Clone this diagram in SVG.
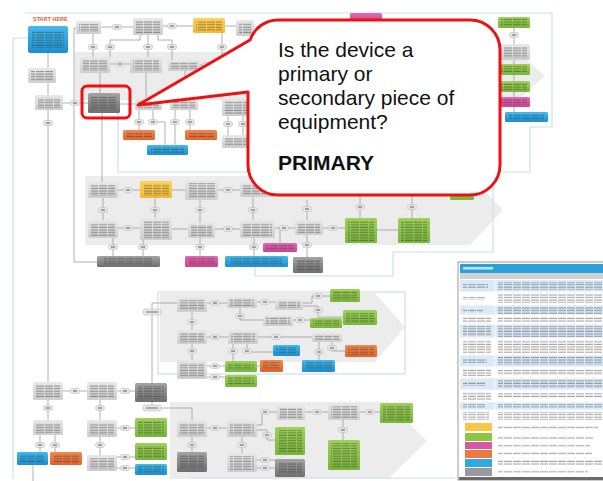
<svg xmlns="http://www.w3.org/2000/svg" xmlns:xlink="http://www.w3.org/1999/xlink" width="603" height="481" viewBox="0 0 603 481">
<defs>
<linearGradient id="gGray" x1="0" y1="0" x2="0" y2="1"><stop offset="0" stop-color="#e8e8e8"/><stop offset="1" stop-color="#cdcdcd"/></linearGradient>
<linearGradient id="gDark" x1="0" y1="0" x2="0" y2="1"><stop offset="0" stop-color="#a4a4a4"/><stop offset="1" stop-color="#6f6f6f"/></linearGradient>
<linearGradient id="gBlue" x1="0" y1="0" x2="0" y2="1"><stop offset="0" stop-color="#46b9ea"/><stop offset="1" stop-color="#1b8ed0"/></linearGradient>
<linearGradient id="gGreen" x1="0" y1="0" x2="0" y2="1"><stop offset="0" stop-color="#9ed15a"/><stop offset="1" stop-color="#79b53a"/></linearGradient>
<linearGradient id="gOrange" x1="0" y1="0" x2="0" y2="1"><stop offset="0" stop-color="#f08a4e"/><stop offset="1" stop-color="#e0642c"/></linearGradient>
<linearGradient id="gPink" x1="0" y1="0" x2="0" y2="1"><stop offset="0" stop-color="#e06bb3"/><stop offset="1" stop-color="#c9448f"/></linearGradient>
<linearGradient id="gYellow" x1="0" y1="0" x2="0" y2="1"><stop offset="0" stop-color="#fbd35c"/><stop offset="1" stop-color="#f2b935"/></linearGradient>
<pattern id="tx" width="9" height="2.6" patternUnits="userSpaceOnUse"><rect x="0" y="0.6" width="8" height="1.2" fill="#2a2a2a" opacity="0.4"/></pattern>
<filter id="soft" x="-10%" y="-20%" width="120%" height="140%"><feGaussianBlur stdDeviation="0.35"/></filter>
<g id="pill"><rect x="-4.5" y="-2.5" width="9" height="5" rx="2" fill="#e6e6e6" stroke="#b5b5b5" stroke-width="0.5"/><rect x="-2" y="-0.6" width="4" height="1.2" fill="#444" opacity="0.7"/></g>
</defs>
<style>
.gr{fill:url(#gGray)} .dk{fill:url(#gDark)} .bl{fill:url(#gBlue)} .gn{fill:url(#gGreen)}
.or{fill:url(#gOrange)} .pk{fill:url(#gPink)} .ye{fill:url(#gYellow)}
.t{fill:url(#tx);filter:url(#soft)}
.cn{fill:none;stroke:#9c9c9c;stroke-width:0.8}
.fr{fill:none;stroke:#c9dff0;stroke-width:1.2}
.chev{fill:#ececec}
.lbl{font-family:"Liberation Sans",Arial,sans-serif}
</style>
<rect width="603" height="481" fill="#ffffff"/>

<!-- background chevrons -->
<g id="chevrons">
<path class="chev" d="M75,52 H518 L545,76 L518,100 H75 Z"/>
<path class="chev" d="M85,176 H470 L503,210 L470,245 H85 Z"/>
<path class="chev" d="M160,293 H375 L405,327 L375,362 H160 Z"/>
<path class="chev" d="M170,402 H388 L427,441 L388,479 H170 Z"/>
</g>

<!-- frames -->
<g id="frames">
<path class="fr" d="M25,13 H552 V127 H530 V172 H118 V113"/>
<path class="fr" d="M13,479 V38 H28"/>
<path class="fr" d="M493,172 V252 H393 V276 H255 V267"/>
<rect class="fr" x="158" y="292" width="247" height="82"/>
<path class="fr" d="M190,478 H455"/>
</g>

<!-- connectors -->
<g id="connectors">
<path class="cn" d="M101,27 H133 M163,26 H193 M225,26 H236"/>
<path class="cn" d="M93,34 V57 M140,35 V40 H110 V57 M148,35 V57 M158,35 V40 H172 V60 M222,33 V98"/>
<path class="cn" d="M110,64 H130 M200,65 H236 M146,73 V98 M185,71 V100 M100,73 V93"/>
<path class="cn" d="M48,53 V68 M48,83 V95 M63,103 H88 M120,104 H135"/>
<path class="cn" d="M139,110 V130 M153,110 V122 H165 V145 M175,110 V145 M190,110 V130 M228,116 V135 M243,116 V135"/>
<path class="cn" d="M48,110 V382 M76,28 H74 V262 H97 M102,113 V182"/>
<path class="cn" d="M514,28 V44 M514,60 V64 M514,75 V81 M514,92 V97 M514,107 V112"/>
<path class="cn" d="M118,190 H140 M172,190 H185 M218,190 H240"/>
<path class="cn" d="M103,198 V220 M155,198 V218 M200,200 V222 M253,195 V220"/>
<path class="cn" d="M118,228 H140 M172,229 H188 M215,229 H240 M275,228 H295 M280,228 V243"/>
<path class="cn" d="M113,238 V256 M143,240 V256 M200,238 V256 M254,238 V256"/>
<path class="cn" d="M323,228 H345 M307,200 V220 M360,195 V218 M412,195 V218 M307,235 V257 M377,230 H398"/>
<path class="cn" d="M152,383 V303 H177 M207,303 H227 M257,302 H275 M303,303 H312 V296 H330 M303,306 H318 V317 H343"/>
<path class="cn" d="M240,308 V320 H263 M293,320 H310 M192,312 V330 M207,337 H228 M258,337 H312"/>
<path class="cn" d="M233,344 V361 M247,344 V352 H273 M319,342 V360 M332,342 V351 H345 M192,344 V360 M207,366 H225 M207,377 H225 M257,366 H260"/>
<path class="cn" d="M63,391 H87 M117,391 H135 M48,400 V420 M100,400 V420 M117,428 H135"/>
<path class="cn" d="M40,435 V452 M55,435 V452 M100,437 V455 M117,457 H135 M117,468 H135 M33,465 V481"/>
<path class="cn" d="M152,402 V408 H192 V420 M207,428 H227 M192,437 V452 M242,437 V453"/>
<path class="cn" d="M257,425 H262 V412 H277 M257,430 H267 V440 H275 M257,460 H275 M257,468 H275"/>
<path class="cn" d="M305,412 H328 M360,412 H380 M343,420 V440"/>
</g>

<!-- pills -->
<g id="pills">
<use href="#pill" x="117" y="27"/><use href="#pill" x="172" y="26"/>
<use href="#pill" x="93" y="47"/><use href="#pill" x="110" y="47"/><use href="#pill" x="148" y="47"/><use href="#pill" x="172" y="47"/><use href="#pill" x="222" y="47"/>
<use href="#pill" x="120" y="64"/><use href="#pill" x="207" y="65"/>
<use href="#pill" x="75" y="103"/><use href="#pill" x="48" y="123"/>
<use href="#pill" x="139" y="122"/><use href="#pill" x="153" y="122"/><use href="#pill" x="175" y="122"/><use href="#pill" x="190" y="122"/><use href="#pill" x="228" y="124"/><use href="#pill" x="243" y="124"/>
<use href="#pill" x="514" y="35"/>
<use href="#pill" x="128" y="190"/><use href="#pill" x="228" y="190"/>
<use href="#pill" x="103" y="210"/><use href="#pill" x="155" y="210"/><use href="#pill" x="200" y="210"/><use href="#pill" x="253" y="210"/>
<use href="#pill" x="307" y="209"/><use href="#pill" x="360" y="207"/><use href="#pill" x="412" y="207"/>
<use href="#pill" x="128" y="228"/><use href="#pill" x="228" y="229"/><use href="#pill" x="284" y="228"/><use href="#pill" x="333" y="228"/>
<use href="#pill" x="113" y="247"/><use href="#pill" x="143" y="247"/><use href="#pill" x="200" y="247"/><use href="#pill" x="254" y="247"/><use href="#pill" x="307" y="245"/>
<use href="#pill" x="215" y="303"/><use href="#pill" x="265" y="302"/><use href="#pill" x="318" y="296"/><use href="#pill" x="318" y="310"/>
<use href="#pill" x="240" y="316"/><use href="#pill" x="300" y="320"/><use href="#pill" x="192" y="322"/>
<use href="#pill" x="215" y="337"/><use href="#pill" x="276" y="337"/>
<use href="#pill" x="233" y="351"/><use href="#pill" x="247" y="351"/><use href="#pill" x="319" y="352"/><use href="#pill" x="332" y="348"/><use href="#pill" x="192" y="351"/>
<use href="#pill" x="215" y="366"/><use href="#pill" x="215" y="377"/>
<use href="#pill" x="75" y="391"/><use href="#pill" x="125" y="391"/><use href="#pill" x="48" y="408"/><use href="#pill" x="100" y="408"/>
<use href="#pill" x="125" y="428"/><use href="#pill" x="40" y="445"/><use href="#pill" x="55" y="445"/><use href="#pill" x="100" y="445"/>
<use href="#pill" x="125" y="457"/><use href="#pill" x="125" y="468"/>
<use href="#pill" x="215" y="428"/><use href="#pill" x="192" y="445"/><use href="#pill" x="242" y="445"/>
<use href="#pill" x="265" y="412"/><use href="#pill" x="267" y="435"/><use href="#pill" x="265" y="460"/><use href="#pill" x="265" y="468"/>
<use href="#pill" x="317" y="412"/><use href="#pill" x="370" y="412"/><use href="#pill" x="343" y="430"/>
</g>

<!-- branch labels -->
<g id="branch-primary"><rect x="143" y="309" width="18" height="6" rx="2" fill="#e6e6e6" stroke="#b5b5b5" stroke-width="0.5"/><rect x="146" y="311.4" width="12" height="1.2" fill="#444" opacity="0.6"/></g>
<g id="branch-secondary"><rect x="143" y="405" width="18" height="6" rx="2" fill="#e6e6e6" stroke="#b5b5b5" stroke-width="0.5"/><rect x="146" y="407.4" width="12" height="1.2" fill="#444" opacity="0.6"/></g>

<!-- START HERE -->
<text id="start-label" class="lbl" x="33" y="21" font-size="5.5" font-weight="bold" fill="#e8572a">START HERE</text>

<!-- nodes: top section -->
<g id="n1"><rect class="bl" x="28" y="26" width="40" height="27" rx="2"/><rect class="t" x="32" y="31" width="32" height="17"/></g>
<g id="n2"><rect class="gr" x="76" y="21" width="25" height="13" rx="1.5"/><rect class="t" x="79" y="24" width="19" height="8"/></g>
<g id="n3"><rect class="gr" x="133" y="18" width="30" height="17" rx="1.5"/><rect class="t" x="136" y="21" width="24" height="12"/></g>
<g id="n4"><rect class="ye" x="193" y="18" width="32" height="15" rx="1.5"/><rect class="t" x="196" y="21" width="26" height="10"/></g>
<g id="n5"><rect class="gr" x="236" y="20" width="18" height="16" rx="1.5"/><rect class="t" x="239" y="23" width="12" height="11"/></g>
<g id="n6"><rect class="pk" x="350" y="13" width="32" height="10" rx="1.5"/></g>
<g id="n7"><rect class="gn" x="498" y="17" width="32" height="11" rx="1.5"/><rect class="t" x="501" y="19" width="26" height="7"/></g>
<g id="n8"><rect class="gr" x="500" y="44" width="30" height="16" rx="1.5"/><rect class="t" x="503" y="47" width="24" height="11"/></g>
<g id="n9"><rect class="gn" x="498" y="64" width="32" height="11" rx="1.5"/><rect class="t" x="501" y="66" width="26" height="7"/></g>
<g id="n10"><rect class="gn" x="498" y="81" width="32" height="11" rx="1.5"/><rect class="t" x="501" y="83" width="26" height="7"/></g>
<g id="n11"><rect class="pk" x="498" y="97" width="32" height="10" rx="1.5"/><rect class="t" x="501" y="99" width="26" height="6"/></g>
<g id="n12"><rect class="bl" x="505" y="112" width="43" height="10" rx="1.5"/><rect class="t" x="509" y="114" width="35" height="6"/></g>
<g id="n13"><rect class="gr" x="28" y="68" width="28" height="15" rx="1.5"/><rect class="t" x="31" y="71" width="22" height="10"/></g>
<g id="n14"><rect class="gr" x="80" y="57" width="30" height="16" rx="1.5"/><rect class="t" x="83" y="60" width="24" height="11"/></g>
<g id="n15"><rect class="gr" x="130" y="57" width="32" height="16" rx="1.5"/><rect class="t" x="133" y="60" width="26" height="11"/></g>
<g id="n16"><rect class="gr" x="168" y="60" width="32" height="11" rx="1.5"/><rect class="t" x="171" y="62" width="26" height="7"/></g>
<g id="n17"><rect class="gr" x="35" y="95" width="28" height="15" rx="1.5"/><rect class="t" x="38" y="98" width="22" height="10"/></g>
<g id="n18"><rect class="dk" x="88" y="93" width="32" height="20" rx="1.5"/><rect class="t" x="91" y="97" width="26" height="13"/><rect x="82" y="86" width="48" height="32" rx="5" fill="none" stroke="#ee1111" stroke-width="3"/></g>
<g id="n19"><rect class="gr" x="135" y="99" width="27" height="11" rx="1.5"/><rect class="t" x="138" y="101" width="21" height="7"/></g>
<g id="n20"><rect class="gr" x="170" y="99" width="28" height="11" rx="1.5"/><rect class="t" x="173" y="101" width="22" height="7"/></g>
<g id="n21"><rect class="or" x="123" y="130" width="32" height="10" rx="1.5"/><rect class="t" x="126" y="132" width="26" height="6"/></g>
<g id="n22"><rect class="or" x="185" y="130" width="32" height="10" rx="1.5"/><rect class="t" x="188" y="132" width="26" height="6"/></g>
<g id="n23"><rect class="bl" x="147" y="145" width="41" height="10" rx="1.5"/><rect class="t" x="151" y="147" width="33" height="6"/></g>
<g id="n24"><rect class="gr" x="222" y="98" width="28" height="18" rx="1.5"/><rect class="t" x="225" y="101" width="22" height="13"/></g>
<g id="n25"><rect class="gr" x="222" y="135" width="28" height="13" rx="1.5"/><rect class="t" x="225" y="138" width="22" height="8"/></g>

<!-- middle section -->
<g id="n26"><rect class="gr" x="88" y="182" width="30" height="16" rx="1.5"/><rect class="t" x="91" y="185" width="24" height="11"/></g>
<g id="n27"><rect class="ye" x="140" y="181" width="32" height="17" rx="1.5"/><rect class="t" x="143" y="184" width="26" height="12"/></g>
<g id="n28"><rect class="gr" x="185" y="180" width="33" height="20" rx="1.5"/><rect class="t" x="188" y="183" width="27" height="15"/></g>
<g id="n29"><rect class="gr" x="240" y="182" width="35" height="15" rx="1.5"/><rect class="t" x="243" y="185" width="29" height="10"/></g>
<g id="n30"><rect class="gr" x="88" y="220" width="30" height="18" rx="1.5"/><rect class="t" x="91" y="223" width="24" height="13"/></g>
<g id="n31"><rect class="gr" x="140" y="218" width="32" height="22" rx="1.5"/><rect class="t" x="143" y="221" width="26" height="17"/></g>
<g id="n32"><rect class="gr" x="188" y="222" width="27" height="16" rx="1.5"/><rect class="t" x="191" y="225" width="21" height="11"/></g>
<g id="n33"><rect class="gr" x="240" y="220" width="35" height="18" rx="1.5"/><rect class="t" x="243" y="223" width="29" height="13"/></g>
<g id="n34"><rect class="pk" x="263" y="243" width="34" height="9" rx="1.5"/><rect class="t" x="266" y="245" width="28" height="5"/></g>
<g id="n35"><rect class="gr" x="295" y="220" width="28" height="15" rx="1.5"/><rect class="t" x="298" y="223" width="22" height="10"/></g>
<g id="n36"><rect class="gn" x="345" y="218" width="32" height="25" rx="1.5"/><rect class="t" x="348" y="221" width="26" height="20"/></g>
<g id="n37"><rect class="gn" x="398" y="218" width="32" height="25" rx="1.5"/><rect class="t" x="401" y="221" width="26" height="20"/></g>
<g id="n38"><rect class="gn" x="450" y="188" width="24" height="12" rx="1.5"/></g>
<g id="n39"><rect class="dk" x="97" y="256" width="63" height="11" rx="1.5"/><rect class="t" x="104" y="258" width="49" height="7"/></g>
<g id="n40"><rect class="pk" x="185" y="256" width="33" height="11" rx="1.5"/><rect class="t" x="188" y="258" width="27" height="7"/></g>
<g id="n41"><rect class="bl" x="225" y="256" width="63" height="11" rx="1.5"/><rect class="t" x="231" y="258" width="51" height="7"/></g>
<g id="n42"><rect class="dk" x="293" y="257" width="30" height="16" rx="1.5"/><rect class="t" x="296" y="260" width="24" height="11"/></g>

<!-- lower section -->
<g id="n43"><rect class="gr" x="177" y="297" width="30" height="15" rx="1.5"/><rect class="t" x="180" y="300" width="24" height="10"/></g>
<g id="n44"><rect class="gr" x="227" y="297" width="30" height="11" rx="1.5"/><rect class="t" x="230" y="299" width="24" height="7"/></g>
<g id="n45"><rect class="gr" x="275" y="299" width="28" height="11" rx="1.5"/><rect class="t" x="278" y="301" width="22" height="7"/></g>
<g id="n46"><rect class="gn" x="330" y="289" width="30" height="13" rx="1.5"/><rect class="t" x="333" y="291" width="24" height="9"/></g>
<g id="n47"><rect class="gn" x="343" y="310" width="34" height="15" rx="1.5"/><rect class="t" x="346" y="313" width="28" height="10"/></g>
<g id="n48"><rect class="gr" x="263" y="315" width="30" height="11" rx="1.5"/><rect class="t" x="266" y="317" width="24" height="7"/></g>
<g id="n49"><rect class="gn" x="310" y="318" width="32" height="10" rx="1.5"/><rect class="t" x="313" y="320" width="26" height="6"/></g>
<g id="n50"><rect class="gr" x="177" y="330" width="30" height="14" rx="1.5"/><rect class="t" x="180" y="333" width="24" height="9"/></g>
<g id="n51"><rect class="gr" x="228" y="330" width="30" height="14" rx="1.5"/><rect class="t" x="231" y="333" width="24" height="9"/></g>
<g id="n52"><rect class="gr" x="312" y="333" width="30" height="9" rx="1.5"/><rect class="t" x="315" y="335" width="24" height="5"/></g>
<g id="n53"><rect class="or" x="345" y="345" width="32" height="12" rx="1.5"/><rect class="t" x="348" y="347" width="26" height="8"/></g>
<g id="n54"><rect class="bl" x="273" y="345" width="27" height="11" rx="1.5"/><rect class="t" x="276" y="347" width="21" height="7"/></g>
<g id="n55"><rect class="bl" x="302" y="360" width="33" height="12" rx="1.5"/><rect class="t" x="305" y="362" width="27" height="8"/></g>
<g id="n56"><rect class="gr" x="177" y="360" width="30" height="19" rx="1.5"/><rect class="t" x="180" y="363" width="24" height="14"/></g>
<g id="n57"><rect class="gn" x="225" y="361" width="32" height="11" rx="1.5"/><rect class="t" x="228" y="363" width="26" height="7"/></g>
<g id="n58"><rect class="or" x="260" y="360" width="23" height="12" rx="1.5"/><rect class="t" x="263" y="362" width="17" height="8"/></g>
<g id="n59"><rect class="gn" x="225" y="375" width="32" height="12" rx="1.5"/><rect class="t" x="228" y="377" width="26" height="8"/></g>

<!-- bottom section -->
<g id="n60"><rect class="gr" x="33" y="382" width="30" height="18" rx="1.5"/><rect class="t" x="36" y="385" width="24" height="13"/></g>
<g id="n61"><rect class="gr" x="87" y="382" width="30" height="18" rx="1.5"/><rect class="t" x="90" y="385" width="24" height="13"/></g>
<g id="n62"><rect class="dk" x="135" y="383" width="32" height="19" rx="1.5"/><rect class="t" x="138" y="386" width="26" height="13"/></g>
<g id="n63"><rect class="gr" x="33" y="420" width="30" height="15" rx="1.5"/><rect class="t" x="36" y="423" width="24" height="10"/></g>
<g id="n64"><rect class="gr" x="87" y="420" width="30" height="17" rx="1.5"/><rect class="t" x="90" y="423" width="24" height="12"/></g>
<g id="n65"><rect class="gn" x="135" y="418" width="32" height="19" rx="1.5"/><rect class="t" x="138" y="421" width="26" height="14"/></g>
<g id="n66"><rect class="bl" x="17" y="452" width="31" height="13" rx="1.5"/><rect class="t" x="20" y="454" width="25" height="9"/></g>
<g id="n67"><rect class="or" x="50" y="452" width="32" height="13" rx="1.5"/><rect class="t" x="53" y="454" width="26" height="9"/></g>
<g id="n68"><rect class="gr" x="87" y="455" width="30" height="16" rx="1.5"/><rect class="t" x="90" y="458" width="24" height="11"/></g>
<g id="n69"><rect class="gn" x="135" y="443" width="32" height="17" rx="1.5"/><rect class="t" x="138" y="446" width="26" height="12"/></g>
<g id="n70"><rect class="bl" x="135" y="464" width="32" height="11" rx="1.5"/><rect class="t" x="138" y="466" width="26" height="7"/></g>
<g id="n71"><rect class="gr" x="177" y="420" width="30" height="17" rx="1.5"/><rect class="t" x="180" y="423" width="24" height="12"/></g>
<g id="n72"><rect class="gr" x="227" y="420" width="30" height="17" rx="1.5"/><rect class="t" x="230" y="423" width="24" height="12"/></g>
<g id="n73"><rect class="dk" x="177" y="452" width="30" height="20" rx="1.5"/><rect class="t" x="180" y="455" width="24" height="14"/></g>
<g id="n74"><rect class="gr" x="227" y="453" width="30" height="19" rx="1.5"/><rect class="t" x="230" y="456" width="24" height="14"/></g>
<g id="n75"><rect class="gr" x="277" y="405" width="28" height="15" rx="1.5"/><rect class="t" x="280" y="408" width="22" height="10"/></g>
<g id="n76"><rect class="gr" x="328" y="403" width="32" height="17" rx="1.5"/><rect class="t" x="331" y="406" width="26" height="12"/></g>
<g id="n77"><rect class="gn" x="380" y="403" width="33" height="20" rx="1.5"/><rect class="t" x="383" y="406" width="27" height="15"/></g>
<g id="n78"><rect class="gn" x="328" y="440" width="32" height="30" rx="1.5"/><rect class="t" x="331" y="443" width="26" height="25"/></g>
<g id="n79"><rect class="gn" x="275" y="427" width="30" height="28" rx="1.5"/><rect class="t" x="278" y="430" width="24" height="23"/></g>
<g id="n80"><rect class="dk" x="275" y="459" width="30" height="18" rx="1.5"/><rect class="t" x="278" y="462" width="24" height="12"/></g>

<!-- legend table -->
<g id="legend">
<rect x="458" y="262" width="146" height="218" fill="#ffffff" stroke="#9a9a9a" stroke-width="1"/>
<rect x="460" y="264" width="143" height="9" fill="#2a9fd8"/>
<rect x="463" y="267" width="30" height="2.5" fill="#ffffff" opacity="0.7"/>
<rect x="460" y="273" width="143" height="6" fill="#d2d2d2"/>
<rect x="460" y="280" width="143" height="12" fill="#dbeaf6"/>
<rect x="460" y="305" width="143" height="10" fill="#dbeaf6"/>
<rect x="460" y="324" width="143" height="14" fill="#dbeaf6"/>
<rect x="460" y="355" width="143" height="12" fill="#dbeaf6"/>
<rect x="460" y="378" width="143" height="12" fill="#dbeaf6"/>
<rect x="460" y="402" width="143" height="8" fill="#dbeaf6"/>
<path d="M460,292 H603 M460,305 H603 M460,315 H603 M460,324 H603 M460,338 H603 M460,355 H603 M460,367 H603 M460,378 H603 M460,390 H603 M460,402 H603 M460,410 H603 M460,422 H603 M495,280 V422" stroke="#ffffff" stroke-width="0.8" fill="none"/>
<rect class="t" x="463" y="284" width="25" height="4"/><rect class="t" x="498" y="282" width="104" height="8"/>
<rect class="t" x="463" y="297" width="22" height="3"/><rect class="t" x="498" y="294" width="104" height="9"/>
<rect class="t" x="463" y="309" width="20" height="3"/><rect class="t" x="498" y="307" width="104" height="7"/>
<rect class="t" x="463" y="317" width="28" height="6"/><rect class="t" x="498" y="317" width="104" height="5"/>
<rect class="t" x="463" y="326" width="28" height="10"/><rect class="t" x="498" y="326" width="104" height="11"/>
<rect class="t" x="463" y="340" width="28" height="13"/><rect class="t" x="498" y="340" width="104" height="13"/>
<rect class="t" x="463" y="359" width="24" height="4"/><rect class="t" x="498" y="357" width="104" height="8"/>
<rect class="t" x="463" y="369" width="28" height="7"/><rect class="t" x="498" y="370" width="104" height="5"/>
<rect class="t" x="463" y="382" width="22" height="4"/><rect class="t" x="498" y="380" width="104" height="8"/>
<rect class="t" x="463" y="392" width="28" height="8"/><rect class="t" x="498" y="393" width="104" height="5"/>
<rect class="t" x="463" y="404" width="22" height="4"/><rect class="t" x="498" y="404" width="104" height="4"/>
<rect class="t" x="463" y="412" width="26" height="8"/><rect class="t" x="498" y="412" width="104" height="8"/>
<rect x="465" y="423" width="27" height="8" fill="#f8c744"/><rect class="t" x="498" y="426" width="100" height="3"/>
<rect x="465" y="433" width="27" height="8" fill="#8cc63f"/><rect class="t" x="498" y="436" width="96" height="3"/>
<rect x="465" y="442" width="27" height="7" fill="#d957a6"/><rect class="t" x="498" y="444" width="92" height="3"/>
<rect x="465" y="450" width="27" height="8" fill="#ec7a3e"/><rect class="t" x="498" y="452" width="94" height="3"/>
<rect x="465" y="459" width="27" height="8" fill="#2eaae1"/><rect class="t" x="498" y="460" width="104" height="5"/>
<rect x="465" y="468" width="27" height="8" fill="#9a9a9a"/><rect class="t" x="498" y="470" width="90" height="3"/>
<rect x="459" y="477" width="145" height="3" fill="#6a6a6a"/>
</g>

<!-- callout -->
<g id="callout">
<path d="M278,20 H470 A30,30 0 0 1 500,50 V165 A30,30 0 0 1 470,195 H278 A30,30 0 0 1 248,165 V92 L138,105 L250,40 A30,30 0 0 1 278,20 Z" fill="#ffffff" stroke="#ee1111" stroke-width="3" stroke-linejoin="round"/>
<text class="lbl" x="278" y="57" font-size="21" fill="#111111">Is the device a</text>
<text class="lbl" x="278" y="81" font-size="21" fill="#111111">primary or</text>
<text class="lbl" x="278" y="105" font-size="21" fill="#111111">secondary piece of</text>
<text class="lbl" x="278" y="129" font-size="21" fill="#111111">equipment?</text>
<text class="lbl" x="278" y="170" font-size="21" font-weight="bold" fill="#111111">PRIMARY</text>
</g>
</svg>
